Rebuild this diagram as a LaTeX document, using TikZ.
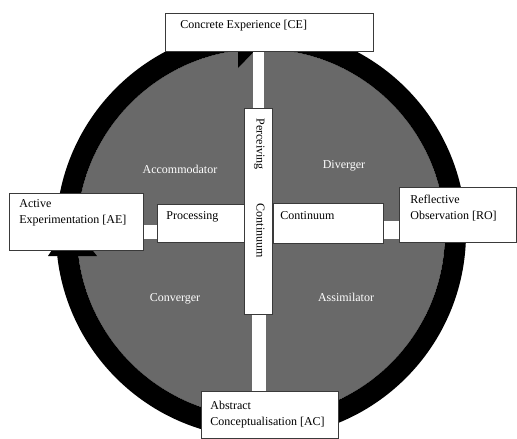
\documentclass[tikz,border=0pt]{standalone}
\usepackage{fontspec}
\setmainfont{Liberation Serif}
\usetikzlibrary{calc}
\definecolor{disc}{HTML}{696969}
\definecolor{edge}{HTML}{3A3A3A}

\begin{document}
\begin{tikzpicture}[x=1pt,y=-1pt,
  tbox/.style={draw=edge,line width=0.8pt,fill=white,anchor=north west,inner xsep=10pt,inner ysep=7pt,font=\fontsize{12pt}{16pt}\selectfont},
  quad/.style={text=white,anchor=base,font=\fontsize{12pt}{16pt}\selectfont},
  strip/.style={draw=white,line cap=butt,shorten <=0.5pt,shorten >=0.5pt}]
\useasboundingbox (0,0) rectangle (517,439);
% learning cycle wheel
\coordinate (c) at (261,233);
\fill[disc] (c) circle[radius=184];
\draw[line width=21pt] (c) circle[radius=194.5];
\fill (238,14) -- (238,68) -- (266,39) -- cycle;
\fill (48,256) -- (97,256) -- (70,222) -- cycle;
% styles of learning
\node[quad] (acc) at (180,173) {Accommodator};
\node[quad] (div) at (344,168) {Diverger};
\node[quad] (con) at (175,301) {Converger};
\node[quad] (ass) at (346,301) {Assimilator};
% the four stages
\node[tbox,inner xsep=15pt] (ce) at (165,13) {\parbox[t][24pt][t]{178pt}{Concrete Experience [CE]}};
\node[tbox,inner ysep=6pt] (ae) at (9,193) {\parbox[t][45pt][t]{114pt}{Active\\Experimentation [AE]}};
\node[tbox,inner xsep=11pt,inner ysep=8pt] (ro) at (399,187) {\parbox[t][39pt][t]{95pt}{Reflective\\Observation [RO]}};
\node[tbox,inner xsep=9pt,inner ysep=10pt] (ac) at (201,391) {\parbox[t][27pt][t]{119pt}{Abstract\\Conceptualisation [AC]}};
% continua
\node[tbox,inner xsep=9pt] (proc) at (157,204) {\parbox[t][24pt][t]{70pt}{Processing}};
\node[tbox,inner xsep=7pt,inner ysep=8pt] (cont) at (273,203) {\parbox[t][24pt][t]{96pt}{Continuum}};
\node[tbox,rotate=-90,inner ysep=8pt] (bar) at (273,108) {\parbox[t][12pt][t]{186pt}{Perceiving\hspace{34pt}Continuum}};
\draw[strip,line width=11pt] (bar.west) -- (bar.west |- ce.south);
\draw[strip,line width=14pt] (bar.east) -- (bar.east |- ac.north);
\draw[strip,line width=14pt] ([yshift=-10pt]ae.east) -- ([yshift=-10pt]ae.east -| proc.west);
\draw[strip,line width=18pt] ([yshift=-7pt]cont.east) -- ([yshift=-7pt]cont.east -| ro.west);
\end{tikzpicture}
\end{document}
